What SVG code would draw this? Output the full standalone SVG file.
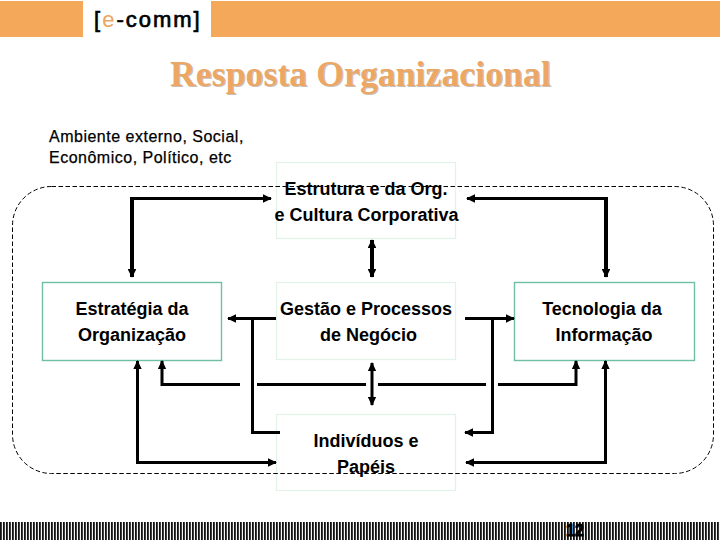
<svg xmlns="http://www.w3.org/2000/svg" width="720" height="540" viewBox="0 0 720 540">
<style>
.a{font-family:"Liberation Sans",Arial,sans-serif;fill:#000}
.n{font-size:18px;font-weight:bold;text-anchor:middle}
.box{fill:#fff;stroke:#e2f2e6;stroke-width:1.2}
.tbox{fill:#fff;stroke:#6fbfa5;stroke-width:1.4}
.c{fill:none;stroke:#000;stroke-linejoin:miter}
.t{font-family:"Liberation Serif","Times New Roman",serif;font-size:35.800px;font-weight:bold}
.amb{font-size:16px;letter-spacing:.5px;stroke:#000;stroke-width:.25}
</style>
<defs>
<pattern id="st" width="3" height="18" patternUnits="userSpaceOnUse"><rect width="3" height="18" fill="#f4f4f4"/><rect width="1.8" height="18" fill="#111"/></pattern>
<marker id="h" markerWidth="3" markerHeight="3" refX="2.7" refY="1.5" orient="auto-start-reverse" markerUnits="strokeWidth" viewBox="0 0 3 3"><path d="M0 .1L3 1.5L0 2.9Z" fill="#000"/></marker>
<marker id="h2" markerWidth="2.2" markerHeight="2.2" refX="2" refY="1.1" orient="auto-start-reverse" markerUnits="strokeWidth" viewBox="0 0 2.2 2.2"><path d="M0 0L2.2 1.1L0 2.2Z" fill="#000"/></marker>
</defs>
<g id="header">
<rect x="0" y="1" width="83" height="36" fill="#f4a85a"/>
<rect x="211" y="1" width="509" height="36" fill="#f4a85a"/>
<text x="94" y="27" class="a" font-size="22" letter-spacing="2" stroke="#000" stroke-width=".7">[<tspan fill="#eaa662" stroke="none">e</tspan>-comm]</text>
</g>
<g id="title">
<text x="171" y="87" class="t" fill="#c8c0b8">Resposta Organizacional</text>
<text x="170" y="86" class="t" fill="#eda765">Resposta Organizacional</text>
</g>
<text x="49" y="142" class="a amb">Ambiente externo, Social,</text>
<text x="49" y="163" class="a amb">Econômico, Político, etc</text>
<g id="node-estrutura"><rect class="box" x="276.500" y="162.500" width="179" height="76"/></g>
<g id="node-gestao"><rect class="box" x="276.500" y="282.500" width="179" height="77"/></g>
<g id="node-individuos"><rect class="box" x="276.500" y="414.500" width="179" height="76"/></g>
<g id="node-estrategia"><rect class="tbox" x="42.500" y="282.500" width="179" height="78"/></g>
<g id="node-tecnologia"><rect class="tbox" x="514.500" y="282.500" width="180" height="78"/></g>
<rect id="ambiente" x="12.500" y="186.500" width="701" height="287" rx="39" ry="39" fill="none" stroke="#000" stroke-width="1" stroke-dasharray="4.500 2.500"/>
<g id="connectors">
<path class="c" stroke-width="3" d="M132 198.500H271" marker-end="url(#h)"/>
<path class="c" stroke-width="4" d="M132 197V277" marker-end="url(#h2)"/>
<path class="c" stroke-width="3" d="M606 198.500H467" marker-end="url(#h)"/>
<path class="c" stroke-width="4" d="M606 197V277" marker-end="url(#h2)"/>
<path class="c" stroke-width="4" d="M372 240V277" marker-start="url(#h2)" marker-end="url(#h2)"/>
<path class="c" stroke-width="3" d="M276 318.500H228" marker-end="url(#h)"/>
<path class="c" stroke-width="3" d="M465 318.500H514" marker-end="url(#h)"/>
<path class="c" stroke-width="3" d="M252.500 318V432.500H280"/>
<path class="c" stroke-width="3" d="M492.500 318V432.500H465" marker-end="url(#h)"/>
<path class="c" stroke-width="3" d="M240 384.500H162V361" marker-end="url(#h)"/>
<path class="c" stroke-width="3" d="M257 384.500H366"/>
<path class="c" stroke-width="3" d="M378 384.500H486"/>
<path class="c" stroke-width="3" d="M498 384.500H576V361" marker-end="url(#h)"/>
<path class="c" stroke-width="3" d="M372 363V405" marker-start="url(#h)" marker-end="url(#h)"/>
<path class="c" stroke-width="3" d="M137.500 361V462.500H276" marker-start="url(#h)" marker-end="url(#h)"/>
<path class="c" stroke-width="3" d="M605.500 361V462.500H466" marker-start="url(#h)" marker-end="url(#h)"/>
</g>
<g id="labels">
<text x="366" y="195" class="a n">Estrutura e da Org.</text>
<text x="366.500" y="221" class="a n">e Cultura Corporativa</text>
<text x="132" y="315" class="a n">Estratégia da</text>
<text x="132" y="341" class="a n">Organização</text>
<text x="366" y="315" class="a n">Gestão e Processos</text>
<text x="368.500" y="341" class="a n">de Negócio</text>
<text x="602" y="315" class="a n">Tecnologia da</text>
<text x="604" y="341" class="a n">Informação</text>
<text x="366" y="447" class="a n">Indivíduos e</text>
<text x="366" y="473" class="a n">Papéis</text>
</g>
<g id="footer">
<rect x="0" y="522" width="720" height="18" fill="url(#st)"/>
<text x="575" y="536" class="a" font-size="16" font-weight="bold" text-anchor="middle" stroke="#000" stroke-width=".8">12</text>
</g>
</svg>
